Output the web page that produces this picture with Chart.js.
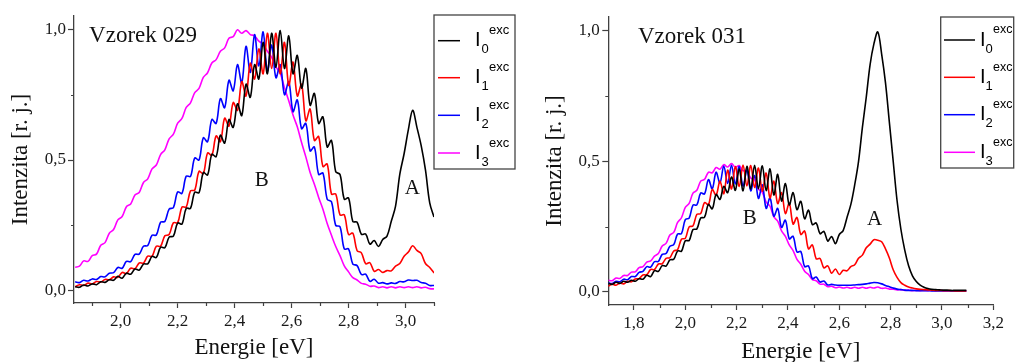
<!DOCTYPE html>
<html>
<head>
<meta charset="utf-8">
<script src="https://cdn.jsdelivr.net/npm/chart.js@4.4.1/dist/chart.umd.min.js"></script>
<style>
  html, body { margin: 0; padding: 0; background: #fff; width: 1015px; height: 362px; overflow: hidden; }
  canvas { position: absolute; top: 0; }
  #graf029 { left: 0; }
  #graf031 { left: 520px; }
</style>
</head>
<body>
<canvas id="graf029" width="520" height="362"></canvas>
<canvas id="graf031" width="495" height="366"></canvas>
<script>
// spektra vzorku 029 a 031

// Vzorek 029
const energie029 = [
  1.84,1.855,1.87,1.885,1.9,1.915,1.93,1.945,1.96,1.975,
  1.99,2.005,2.02,2.035,2.05,2.065,2.08,2.095,2.11,2.125,
  2.14,2.155,2.17,2.185,2.2,2.215,2.23,2.245,2.26,2.275,
  2.29,2.305,2.32,2.335,2.35,2.365,2.38,2.395,2.41,2.425,
  2.44,2.455,2.47,2.485,2.5,2.515,2.53,2.545,2.56,2.575,
  2.59,2.605,2.62,2.635,2.65,2.665,2.68,2.695,2.71,2.725,
  2.74,2.755,2.77,2.785,2.8,2.815,2.83,2.845,2.86,2.875,
  2.89,2.905,2.92,2.935,2.95,2.965,2.98,2.995,3.01,3.025,
  3.04,3.055,3.07,3.085,3.1
];
const i0_029 = [
  0.015,0.013,0.022,0.018,0.026,0.023,0.034,0.032,0.042,0.040,
  0.055,0.048,0.067,0.063,0.083,0.079,0.102,0.103,0.131,0.127,
  0.166,0.164,0.205,0.209,0.259,0.255,0.315,0.315,0.377,0.375,
  0.452,0.443,0.522,0.513,0.595,0.565,0.655,0.625,0.715,0.670,
  0.790,0.740,0.865,0.810,0.950,0.830,0.985,0.855,0.995,0.850,
  0.975,0.830,0.900,0.775,0.850,0.710,0.755,0.640,0.665,0.550,
  0.575,0.455,0.445,0.350,0.355,0.265,0.262,0.216,0.217,0.178,
  0.192,0.169,0.196,0.209,0.266,0.324,0.446,0.524,0.616,0.690,
  0.625,0.555,0.462,0.336,0.282
];
const i1_029 = [
  0.015,0.023,0.020,0.029,0.026,0.035,0.033,0.043,0.042,0.053,
  0.051,0.070,0.066,0.086,0.084,0.106,0.106,0.132,0.132,0.170,
  0.170,0.210,0.215,0.260,0.260,0.320,0.320,0.382,0.385,0.457,
  0.448,0.527,0.518,0.592,0.570,0.660,0.630,0.720,0.690,0.800,
  0.745,0.870,0.810,0.925,0.830,0.985,0.850,0.985,0.830,0.950,
  0.785,0.875,0.745,0.790,0.650,0.695,0.575,0.590,0.475,0.485,
  0.370,0.370,0.290,0.290,0.215,0.220,0.153,0.145,0.103,0.107,
  0.074,0.081,0.070,0.077,0.076,0.094,0.104,0.132,0.148,0.172,
  0.154,0.142,0.104,0.089,0.068
];
const i2_029 = [
  0.034,0.031,0.040,0.037,0.045,0.043,0.054,0.053,0.067,0.069,
  0.089,0.086,0.112,0.111,0.139,0.140,0.170,0.173,0.212,0.213,
  0.262,0.265,0.312,0.318,0.378,0.372,0.438,0.437,0.508,0.500,
  0.585,0.570,0.655,0.640,0.735,0.700,0.805,0.765,0.865,0.795,
  0.935,0.835,0.980,0.860,0.990,0.840,0.940,0.815,0.865,0.750,
  0.800,0.685,0.730,0.620,0.640,0.535,0.550,0.445,0.450,0.350,
  0.340,0.250,0.245,0.160,0.160,0.102,0.096,0.062,0.063,0.036,
  0.044,0.029,0.031,0.026,0.030,0.028,0.035,0.034,0.041,0.039,
  0.040,0.031,0.029,0.020,0.020
];
const i3_029 = [
  0.090,0.094,0.114,0.112,0.134,0.140,0.174,0.184,0.220,0.234,
  0.271,0.284,0.321,0.332,0.366,0.376,0.414,0.428,0.466,0.481,
  0.521,0.539,0.581,0.599,0.641,0.659,0.701,0.719,0.758,0.774,
  0.816,0.834,0.871,0.884,0.916,0.929,0.966,0.972,0.998,0.985,
  0.995,0.980,0.975,0.955,0.943,0.916,0.893,0.856,0.832,0.777,
  0.727,0.672,0.627,0.567,0.512,0.452,0.407,0.357,0.312,0.257,
  0.212,0.169,0.134,0.095,0.072,0.050,0.041,0.028,0.025,0.017,
  0.018,0.012,0.015,0.011,0.015,0.011,0.015,0.012,0.015,0.012,
  0.015,0.011,0.013,0.008,0.007
];

// Vzorek 031
const energie031 = [
  1.7,1.715,1.73,1.745,1.76,1.775,1.79,1.805,1.82,1.835,
  1.85,1.865,1.88,1.895,1.91,1.925,1.94,1.955,1.97,1.985,
  2,2.015,2.03,2.045,2.06,2.075,2.09,2.105,2.12,2.135,
  2.15,2.165,2.18,2.195,2.21,2.225,2.24,2.255,2.27,2.285,
  2.3,2.315,2.33,2.345,2.36,2.375,2.39,2.405,2.42,2.435,
  2.45,2.465,2.48,2.495,2.51,2.525,2.54,2.555,2.57,2.585,
  2.6,2.615,2.63,2.645,2.66,2.675,2.69,2.705,2.72,2.735,
  2.75,2.765,2.78,2.795,2.81,2.825,2.84,2.855,2.87,2.885,
  2.9,2.915,2.93,2.945,2.96,2.975,2.99,3.005,3.02,3.035,
  3.05,3.065,3.08,3.095
];
const i0_031 = [
  0.033,0.029,0.037,0.033,0.041,0.037,0.045,0.041,0.051,0.049,
  0.064,0.059,0.082,0.079,0.101,0.099,0.123,0.125,0.157,0.156,
  0.196,0.197,0.239,0.241,0.283,0.286,0.335,0.318,0.373,0.354,
  0.404,0.380,0.440,0.389,0.471,0.387,0.481,0.394,0.485,0.395,
  0.483,0.388,0.471,0.371,0.450,0.348,0.415,0.333,0.380,0.315,
  0.347,0.280,0.313,0.258,0.264,0.223,0.232,0.195,0.212,0.185,
  0.220,0.235,0.285,0.335,0.410,0.500,0.630,0.745,0.870,0.950,
  0.995,0.910,0.800,0.650,0.500,0.350,0.240,0.160,0.100,0.062,
  0.040,0.026,0.018,0.013,0.010,0.009,0.008,0.007,0.007,0.006,
  0.006,0.006,0.006,0.006
];
const i1_031 = [
  0.022,0.030,0.026,0.034,0.031,0.041,0.039,0.050,0.051,0.065,
  0.066,0.086,0.086,0.107,0.108,0.129,0.131,0.157,0.162,0.202,
  0.205,0.249,0.253,0.297,0.300,0.342,0.334,0.392,0.370,0.424,
  0.376,0.466,0.394,0.480,0.404,0.486,0.406,0.484,0.400,0.474,
  0.386,0.455,0.360,0.424,0.338,0.380,0.300,0.340,0.260,0.285,
  0.220,0.233,0.165,0.180,0.127,0.128,0.092,0.100,0.072,0.088,
  0.067,0.083,0.081,0.097,0.104,0.129,0.141,0.169,0.183,0.200,
  0.198,0.192,0.165,0.130,0.085,0.056,0.036,0.026,0.019,0.015,
  0.012,0.010,0.009,0.008,0.007,0.006,0.006,0.005,0.005,0.005,
  0.004,0.004,0.004,0.004
];
const i2_031 = [
  0.035,0.032,0.041,0.039,0.049,0.047,0.059,0.059,0.075,0.079,
  0.097,0.095,0.116,0.117,0.144,0.147,0.175,0.181,0.222,0.223,
  0.277,0.283,0.332,0.333,0.379,0.375,0.430,0.395,0.458,0.417,
  0.482,0.415,0.485,0.413,0.480,0.405,0.467,0.387,0.445,0.358,
  0.410,0.320,0.360,0.290,0.320,0.247,0.275,0.203,0.213,0.153,
  0.155,0.097,0.100,0.051,0.057,0.038,0.042,0.027,0.029,0.027,
  0.026,0.026,0.026,0.026,0.027,0.028,0.029,0.031,0.034,0.036,
  0.035,0.031,0.025,0.020,0.015,0.011,0.009,0.007,0.006,0.006,
  0.005,0.005,0.005,0.005,0.004,0.004,0.004,0.004,0.004,0.004,
  0.004,0.004,0.004,0.004
];
const i3_031 = [
  0.045,0.043,0.053,0.052,0.063,0.063,0.076,0.077,0.093,0.097,
  0.114,0.119,0.137,0.147,0.176,0.186,0.218,0.228,0.266,0.284,
  0.324,0.339,0.378,0.389,0.424,0.431,0.458,0.456,0.476,0.470,
  0.487,0.478,0.491,0.477,0.484,0.464,0.464,0.436,0.428,0.394,
  0.381,0.344,0.328,0.287,0.271,0.234,0.213,0.180,0.158,0.125,
  0.106,0.079,0.067,0.047,0.043,0.030,0.030,0.020,0.022,0.016,
  0.019,0.015,0.018,0.014,0.018,0.014,0.018,0.014,0.018,0.015,
  0.019,0.014,0.015,0.011,0.011,0.008,0.009,0.006,0.007,0.005,
  0.006,0.005,0.006,0.005,0.006,0.005,0.006,0.005,0.005,0.005,
  0.005,0.005,0.005,0.005
];

// popisky os
const xTicky029 = [2.0, 2.2, 2.4, 2.6, 2.8, 3.0];
const xMinor029 = [1.9, 2.1, 2.3, 2.5, 2.7, 2.9, 3.1];
const xTicky031 = [1.8, 2.0, 2.2, 2.4, 2.6, 2.8, 3.0, 3.2];
const xMinor031 = [1.9, 2.1, 2.3, 2.5, 2.7, 2.9, 3.1];
const yTicky = [0, 0.5, 1.0];
const yMinor = [0.25, 0.75];

const indexy = ['0', '1', '2', '3'];
const barvy = ['#000000', '#ff0000', '#0000ff', '#ff00ff'];
const SERIF = '"Liberation Serif", "Times New Roman", serif';
const SANS = '"Liberation Sans", Arial, sans-serif';
const carka = v => Number(v).toFixed(1).replace('.', ',');

// vedlejsi (kratke) carky na osach
const pluginMinor = {
  id: 'vedlejsi',
  afterDraw(chart, args, opts) {
    const {ctx, scales: {x, y}} = chart;
    ctx.save();
    ctx.strokeStyle = '#404040';
    ctx.lineWidth = 1.2;
    ctx.beginPath();
    opts.x.forEach(v => {
      const px = Math.round(x.getPixelForValue(v)) + 0.5;
      ctx.moveTo(px, x.top); ctx.lineTo(px, x.top + 3);
    });
    opts.y.forEach(v => {
      const py = Math.round(y.getPixelForValue(v)) + 0.5;
      ctx.moveTo(y.right, py); ctx.lineTo(y.right - 3, py);
    });
    ctx.stroke();
    ctx.restore();
  }
};

// texty v grafu (Vzorek, A, B)
const pluginPopisky = {
  id: 'popisky',
  afterDraw(chart, args, opts) {
    const {ctx, scales: {x, y}} = chart;
    ctx.save();
    ctx.fillStyle = '#111';
    opts.polozky.forEach(p => {
      ctx.font = p.size + 'px ' + SERIF;
      ctx.textAlign = p.align;
      ctx.textBaseline = p.baseline;
      ctx.fillText(p.text, x.getPixelForValue(p.x), y.getPixelForValue(p.y));
    });
    ctx.restore();
  }
};

// legenda s indexy I_k^exc
const pluginLegenda = {
  id: 'legendaExc',
  afterDraw(chart, args, o) {
    const {ctx} = chart;
    ctx.save();
    ctx.fillStyle = '#fff';
    ctx.fillRect(o.box[0], o.box[1], o.box[2], o.box[3]);
    ctx.strokeStyle = '#444';
    ctx.lineWidth = 1.3;
    ctx.strokeRect(o.box[0], o.box[1], o.box[2], o.box[3]);
    chart.data.datasets.forEach((ds, k) => {
      const ry = o.rows[k];
      ctx.strokeStyle = ds.borderColor;
      ctx.lineWidth = 1.5;
      ctx.beginPath();
      ctx.moveTo(o.line[0], ry); ctx.lineTo(o.line[1], ry);
      ctx.stroke();
      ctx.fillStyle = '#000';
      ctx.textAlign = 'left';
      ctx.textBaseline = 'middle';
      ctx.font = '20px ' + SANS;
      ctx.fillText('I', o.textX, ry);
      ctx.font = '13px ' + SANS;
      ctx.fillText(indexy[k], o.textX + o.subDx, ry + 9);
      ctx.font = o.supSize + 'px ' + SANS;
      ctx.fillText('exc', o.textX + o.supDx, ry - 10);
    });
    ctx.restore();
  }
};

function vytvorGraf(id, cfg) {
  const ctx = document.getElementById(id).getContext('2d');
  const datasets = cfg.serie.map((ys, k) => ({
    label: 'I' + indexy[k],
    data: cfg.energie.map((e, j) => ({x: e, y: ys[j]})),
    borderColor: barvy[k],
    borderWidth: 1.6,
    pointRadius: 0,
    tension: 0.35,
    fill: false
  }));
  const osa = {color: '#404040', width: 1.3};
  return new Chart(ctx, {
    type: 'line',
    data: {datasets},
    options: {
      responsive: false,
      animation: false,
      events: [],
      layout: {padding: cfg.padding},
      plugins: {
        legend: {display: false},
        tooltip: {enabled: false},
        vedlejsi: {x: cfg.xMinor, y: yMinor},
        popisky: {polozky: cfg.popisky},
        legendaExc: cfg.legenda
      },
      scales: {
        x: {
          type: 'linear',
          min: cfg.xMin, max: cfg.xMax,
          afterBuildTicks: s => { s.ticks = cfg.xTicky.map(v => ({value: v})); },
          afterFit: s => { s.height = cfg.xVyska; },
          ticks: {callback: carka, font: {family: SERIF, size: 17}, color: '#1a1a1a',
                  padding: 3, maxRotation: 0, autoSkip: false},
          grid: {drawOnChartArea: false, tickLength: 5, tickColor: '#404040', tickWidth: 1.2},
          border: osa,
          title: {display: true, text: 'Energie [eV]', color: '#111',
                  font: {family: SERIF, size: 23}, padding: {top: 0, bottom: 0}}
        },
        y: {
          type: 'linear',
          min: cfg.yMin, max: cfg.yMax,
          afterBuildTicks: s => { s.ticks = yTicky.map(v => ({value: v})); },
          afterFit: s => { s.width = cfg.ySirka; },
          ticks: {callback: carka, font: {family: SERIF, size: 17}, color: '#1a1a1a', padding: cfg.yPad},
          grid: {drawOnChartArea: false, tickLength: 6, tickColor: '#404040', tickWidth: 1.2},
          border: osa,
          title: {display: true, text: 'Intenzita [r. j.]', color: '#111',
                  font: {family: SERIF, size: 23}, padding: {top: cfg.yTitulPad, bottom: 0}}
        }
      }
    },
    plugins: [pluginMinor, pluginPopisky, pluginLegenda]
  });
}

vytvorGraf('graf029', {
  energie: energie029,
  serie: [i0_029, i1_029, i2_029, i3_029],
  xMin: 1.836, xMax: 3.1, yMin: -0.047, yMax: 1.051,
  xTicky: xTicky029, xMinor: xMinor029,
  padding: {left: 0, top: 16, right: 86, bottom: 0},
  ySirka: 74, xVyska: 59, yPad: 2, yTitulPad: 7,
  popisky: [
    {text: 'Vzorek 029', x: 1.889, y: 0.953, size: 23, align: 'left', baseline: 'alphabetic'},
    {text: 'B', x: 2.495, y: 0.423, size: 21, align: 'center', baseline: 'middle'},
    {text: 'A', x: 3.024, y: 0.393, size: 21, align: 'center', baseline: 'middle'}
  ],
  legenda: {box: [434, 15, 81, 154], line: [438, 460], textX: 475, subDx: 6.5, supDx: 14, supSize: 13,
            rows: [40.7, 77.7, 115.3, 153]}
});

vytvorGraf('graf031', {
  energie: energie031,
  serie: [i0_031, i1_031, i2_031, i3_031],
  xMin: 1.7, xMax: 3.2, yMin: -0.0498, yMax: 1.052,
  xTicky: xTicky031, xMinor: xMinor031,
  padding: {left: 0, top: 17, right: 21.7, bottom: 0},
  ySirka: 88.3, xVyska: 61, yPad: 2.5, yTitulPad: 21,
  popisky: [
    {text: 'Vzorek 031', x: 1.8155, y: 0.954, size: 23, align: 'left', baseline: 'alphabetic'},
    {text: 'B', x: 2.251, y: 0.283, size: 21, align: 'center', baseline: 'middle'},
    {text: 'A', x: 2.737, y: 0.276, size: 21, align: 'center', baseline: 'middle'}
  ],
  legenda: {box: [420.7, 17, 73, 151], line: [424, 455], textX: 460, subDx: 5.5, supDx: 13, supSize: 12.5,
            rows: [40, 77.3, 114.7, 152.3]}
});
</script>
</body>
</html>
